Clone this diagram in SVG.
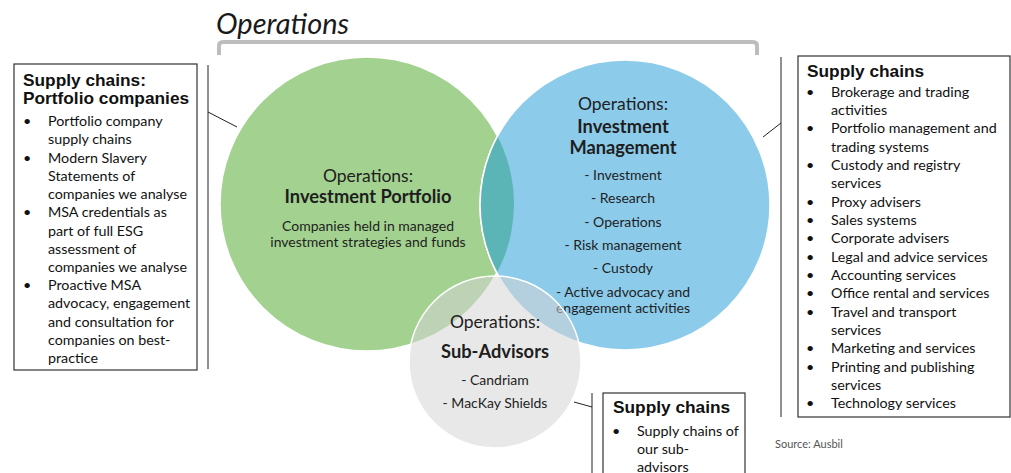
<svg xmlns="http://www.w3.org/2000/svg" width="1011" height="473" viewBox="0 0 1011 473">
<style>
.c{font-family:Lato,"Open Sans","Liberation Sans",sans-serif;fill:#1e1e1e;text-anchor:middle}
.h{font-size:17.5px}
.b{font-weight:bold;font-size:18.3px}
.s{font-size:14px}
.hd{font-family:"Liberation Sans",Arial,sans-serif;font-weight:bold;font-size:17.3px;fill:#111}
.t{font-family:Lato,"Open Sans","Liberation Sans",sans-serif;font-size:14.3px;fill:#111}
.box{fill:#fff;stroke:#333;stroke-width:1.2}
.ln{stroke:#222;stroke-width:1;fill:none}
</style>
<defs>
<clipPath id="gclip"><circle cx="367" cy="204" r="147"/></clipPath>
</defs>

<g id="title">
<text x="216" y="34" font-family="Lato,'Open Sans',sans-serif" font-style="italic" font-size="29" fill="#1a1a1a">Operations</text>
</g>

<g id="connectors">
<path d="M219 55 V46 Q219 42 223 42 H753 Q757 42 757 46 V55" fill="none" stroke="#bdbdbd" stroke-width="4"/>
<line class="ln" x1="208" y1="65" x2="208" y2="369"/>
<line class="ln" x1="208" y1="112" x2="237" y2="127"/>
<line class="ln" x1="781" y1="57" x2="781" y2="417"/>
<line class="ln" x1="763" y1="137" x2="781" y2="123"/>
<line class="ln" x1="592" y1="393" x2="592" y2="473"/>
<line class="ln" x1="574" y1="402" x2="592" y2="407"/>
</g>

<g id="investment-portfolio">
<circle cx="367" cy="204" r="147" fill="#a3d18f" stroke="#fff" stroke-width="1.5"/>
</g>

<g id="investment-management">
<circle cx="625" cy="205" r="145" fill="#8ccbea" stroke="#fff" stroke-width="1.5"/>
<circle cx="625" cy="205" r="145" fill="#5bb5b7" stroke="#fff" stroke-width="1.5" clip-path="url(#gclip)"/>
<text class="c h" x="623" y="110">Operations:</text>
<text class="c b" x="623" y="133">Investment</text>
<text class="c b" x="623" y="154">Management</text>
<text class="c s" x="623" y="180">- Investment</text>
<text class="c s" x="623" y="203">- Research</text>
<text class="c s" x="623" y="227">- Operations</text>
<text class="c s" x="623" y="250">- Risk management</text>
<text class="c s" x="623" y="273">- Custody</text>
<text class="c s" x="623" y="297">- Active advocacy and</text>
<text class="c s" x="623" y="313">engagement activities</text>
</g>

<g id="portfolio-text">
<text class="c h" x="368" y="182">Operations:</text>
<text class="c b" x="368" y="203">Investment Portfolio</text>
<text class="c s" x="368" y="231">Companies held in managed</text>
<text class="c s" x="368" y="247">investment strategies and funds</text>
</g>

<g id="sub-advisors">
<circle cx="495" cy="362" r="86" fill="#d5d5d5" fill-opacity="0.55" stroke="#fff" stroke-width="1.5"/>
<text class="c h" x="495" y="328">Operations:</text>
<text class="c b" x="495" y="358">Sub-Advisors</text>
<text class="c s" x="495" y="385">- Candriam</text>
<text class="c s" x="495" y="408">- MacKay Shields</text>
</g>

<g id="box-portfolio-companies">
<rect class="box" x="14" y="64" width="183" height="306"/>
<text class="hd" x="23" y="86">Supply chains:</text>
<text class="hd" x="23" y="104">Portfolio companies</text>
<g class="t">
<text x="23" y="126">•</text><text x="48" y="126">Portfolio company</text>
<text x="48" y="144">supply chains</text>
<text x="23" y="163">•</text><text x="48" y="163">Modern Slavery</text>
<text x="48" y="181">Statements of</text>
<text x="48" y="199">companies we analyse</text>
<text x="23" y="217">•</text><text x="48" y="217">MSA credentials as</text>
<text x="48" y="236">part of full ESG</text>
<text x="48" y="254">assessment of</text>
<text x="48" y="272">companies we analyse</text>
<text x="23" y="290">•</text><text x="48" y="290">Proactive MSA</text>
<text x="48" y="308">advocacy, engagement</text>
<text x="48" y="327">and consultation for</text>
<text x="48" y="345">companies on best-</text>
<text x="48" y="363">practice</text>
</g>
</g>

<g id="box-supply-chains">
<rect class="box" x="798" y="56" width="212" height="361"/>
<text class="hd" x="807" y="77">Supply chains</text>
<g class="t">
<text x="806" y="97">•</text><text x="831" y="97">Brokerage and trading</text>
<text x="831" y="115">activities</text>
<text x="806" y="133">•</text><text x="831" y="133">Portfolio management and</text>
<text x="831" y="152">trading systems</text>
<text x="806" y="170">•</text><text x="831" y="170">Custody and registry</text>
<text x="831" y="188">services</text>
<text x="806" y="207">•</text><text x="831" y="207">Proxy advisers</text>
<text x="806" y="225">•</text><text x="831" y="225">Sales systems</text>
<text x="806" y="243">•</text><text x="831" y="243">Corporate advisers</text>
<text x="806" y="262">•</text><text x="831" y="262">Legal and advice services</text>
<text x="806" y="280">•</text><text x="831" y="280">Accounting services</text>
<text x="806" y="298">•</text><text x="831" y="298">Office rental and services</text>
<text x="806" y="317">•</text><text x="831" y="317">Travel and transport</text>
<text x="831" y="335">services</text>
<text x="806" y="353">•</text><text x="831" y="353">Marketing and services</text>
<text x="806" y="372">•</text><text x="831" y="372">Printing and publishing</text>
<text x="831" y="390">services</text>
<text x="806" y="408">•</text><text x="831" y="408">Technology services</text>
</g>
</g>

<g id="box-sub-advisors">
<rect class="box" x="603" y="393" width="142" height="90"/>
<text class="hd" x="613" y="413">Supply chains</text>
<g class="t">
<text x="612" y="436">•</text><text x="637" y="436">Supply chains of</text>
<text x="637" y="454">our sub-</text>
<text x="637" y="472">advisors</text>
</g>
</g>

<g id="source">
<text x="775" y="448" font-family="Lato,'Open Sans',sans-serif" font-size="11" fill="#555">Source: Ausbil</text>
</g>
</svg>
